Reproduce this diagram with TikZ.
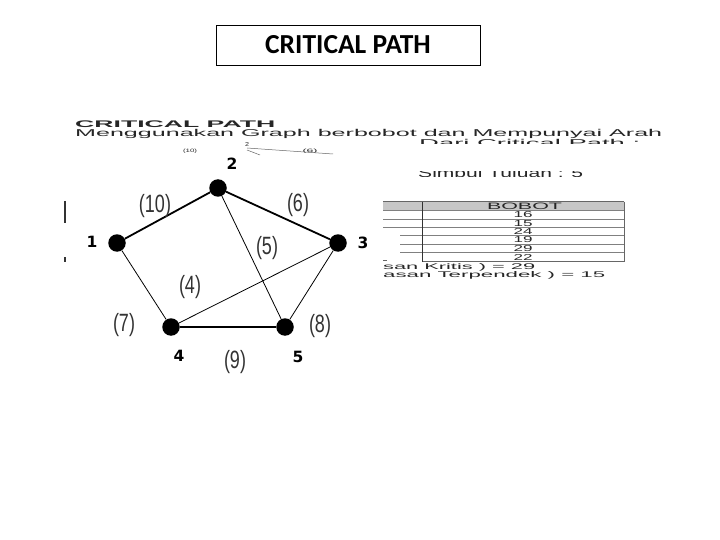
\documentclass[tikz,border=0pt]{standalone}
\usepackage{fontspec}
\setmainfont{Liberation Sans}
\newfontfamily\titlefont{Carlito}
\newfontfamily\vtxfont{DejaVu Sans}
\usepackage{graphicx}
\usetikzlibrary{positioning}

% stretched text of the scanned slide: width, height, text
\newcommand{\fitbox}[3]{\resizebox{#1pt}{#2pt}{#3}}
\newcommand{\narrow}[1]{\scalebox{0.72}[1]{#1}}

\begin{document}
\begin{tikzpicture}[
    x=1pt, y=-1pt,
    titlebox/.style={draw, line width=0.8pt, minimum width=264pt, minimum height=40pt, inner sep=0pt, font=\titlefont\bfseries\fontsize{27.5}{28}\selectfont},
    scan/.style={inner sep=0pt, anchor=base west, text=black!85},
    cell/.style={inner sep=0pt, text=black!85},
    vtx/.style={circle, fill=black, inner sep=0pt, minimum size=17.5pt},
    vname/.style={inner sep=0pt, font=\vtxfont\bfseries\fontsize{15.5}{16}\selectfont},
    weight/.style={inner sep=0pt, text=black!80, font=\fontsize{25}{25}\selectfont},
    heavy/.style={line width=1.8pt},
    light/.style={line width=0.8pt}
]
\useasboundingbox (0,0) rectangle (720,540);

\node[titlebox] (title) at (348,45) {CRITICAL PATH};

% scanned slide behind the graph
\node[scan, font=\bfseries] (scanhead) at (75,127.3) {\fitbox{200}{6.7}{CRITICAL PATH}};
\node[scan] (scansub) at (75,137) {\fitbox{587}{7.2}{Menggunakan Graph berbobot dan Mempunyai Arah}};
\begin{scope}
  \clip (400,130) rectangle (700,143.3);
  \node[scan] (scandari) at (419,146.3) {\fitbox{221}{7.2}{Dari Critical Path :}};
\end{scope}
\begin{scope}
  \clip (400,171.2) rectangle (700,176.6);
  \node[scan] (scangoal) at (418,177.5) {\fitbox{165}{9}{Simpul Tujuan : 5}};
\end{scope}
\node[cell] (smallw) at (190,151.5) {\fitbox{14}{3.5}{(10)}};
\node[cell] (smalltwo) at (247,145) {\fitbox{4}{4}{2}};
\node[cell] (smallsix) at (310,151) {\fitbox{15}{3.5}{(6)}};
\draw[black!60, line width=0.5pt] (247,148) -- (333,154);
\draw[black!60, line width=0.5pt] (247,150) -- (260,155);
\draw[black!80, line width=1.2pt] (65,201) -- (65,223);
\draw[black!80, line width=1.2pt] (65,257) -- (65,262);

% table of weights
\fill[black!22] (383,201.7) rectangle (624,210.7);
\draw[black!60, line width=0.6pt] (383,201.7) -- (624,201.7);
\foreach \y in {210.7,219,227.3} \draw[black!50, line width=0.6pt] (383,\y) -- (624,\y);
\foreach \y in {235.7,244.3,252.7} \draw[black!50, line width=0.6pt] (400,\y) -- (624,\y);
\draw[black!60, line width=0.6pt] (422,261.7) -- (624,261.7);
\draw[black!80, line width=0.9pt] (422,201.7) -- (422,261.7);
\draw[black!60, line width=0.6pt] (624,201.7) -- (624,261.7);
\draw[black!60, line width=0.6pt] (383,260.5) -- (387,260.5);
\node[cell] (bobot) at (524.5,206.2) {\fitbox{75}{6.5}{BOBOT}};
\foreach \w/\y in {16/214.9,15/223.2,24/231.5,19/240,29/248.5,22/257.2}
  \node[cell] at (523,\y) {\fitbox{19}{6}{\w}};
\node[scan] (critical) at (383,269.8) {\fitbox{152}{6}{san Kritis ) = 29}};
\node[scan] (shortest) at (383,277.8) {\fitbox{222}{6}{asan Terpendek ) = 15}};

% graph
\node[vtx] (v1) at (117,243) {};
\node[vtx] (v2) at (218,188) {};
\node[vtx] (v3) at (338,243) {};
\node[vtx] (v4) at (171,327) {};
\node[vtx] (v5) at (285,327) {};

\node[vname] (n1) at (92,242) {1};
\node[vname] (n2) at (232,164) {2};
\node[vname] (n3) at (363,243) {3};
\node[vname] (n4) at (179,356) {4};
\node[vname] (n5) at (298,357) {5};

\draw[heavy] (v1) -- (v2);
\draw[heavy] (v2) -- (v3);
\draw[heavy] (v4) -- (v5);
\draw[light] (v2) -- (v5);
\draw[light] (v3) -- (v4);
\draw[light] (v1) -- (v4);
\draw[light] (v3) -- (v5);

\node[weight] (w12) at (155,206) {\narrow{(10)}};
\node[weight] (w23) at (298,205) {\narrow{(6)}};
\node[weight] (w25) at (267,248) {\narrow{(5)}};
\node[weight] (w34) at (190,287) {\narrow{(4)}};
\node[weight] (w14) at (124,325) {\narrow{(7)}};
\node[weight] (w35) at (320,326) {\narrow{(8)}};
\node[weight] (w45) at (235,362) {\narrow{(9)}};
\end{tikzpicture}
\end{document}
